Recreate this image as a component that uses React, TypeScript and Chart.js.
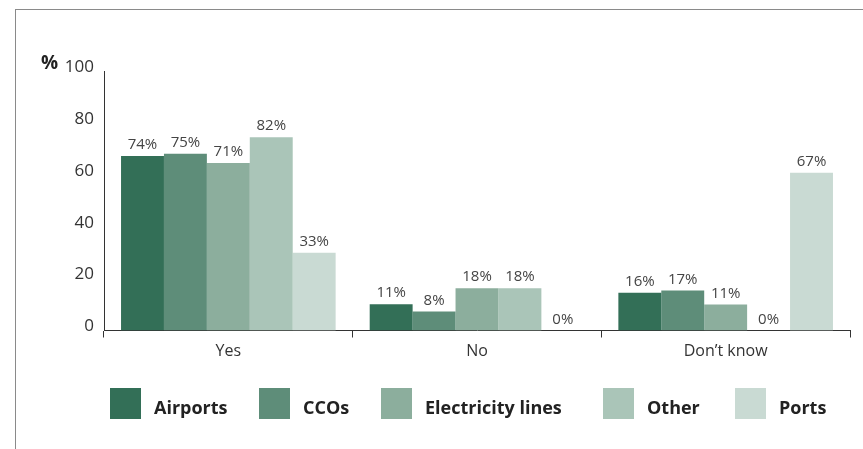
import React, { useEffect, useRef } from "react";
import { Chart, registerables } from "chart.js";

Chart.register(...registerables);

const categories = ["Yes", "No", "Don\u2019t know"];
const seriesNames = ["Airports", "CCOs", "Electricity lines", "Other", "Ports"];
const seriesColors = ["#336f57", "#5e8d79", "#8cae9d", "#aac5b8", "#c9dad3"];

// bar heights as drawn
const airports = [67.2, 10.1, 14.5];
const ccos = [68.1, 7.3, 15.4];
const electricity = [64.5, 16.3, 10.0];
const other = [74.5, 16.3, 0];
const ports = [30.0, 0, 60.8];

// printed labels
const airportsLabels = ["74%", "11%", "16%"];
const ccosLabels = ["75%", "8%", "17%"];
const electricityLabels = ["71%", "18%", "11%"];
const otherLabels = ["82%", "18%", "0%"];
const portsLabels = ["33%", "0%", "67%"];

const yTicks = [0, 20, 40, 60, 80, 100];

const seriesValues = [airports, ccos, electricity, other, ports];
const seriesLabels = [airportsLabels, ccosLabels, electricityLabels, otherLabels, portsLabels];

const FONT = "'Open Sans', 'Noto Sans', sans-serif";

const labelPlugin = {
  id: "barLabels",
  afterDatasetsDraw(chart: any) {
    const ctx = chart.ctx;
    ctx.save();
    ctx.font = `15px ${FONT}`;
    ctx.fillStyle = "#444";
    ctx.textAlign = "center";
    ctx.textBaseline = "alphabetic";
    chart.data.datasets.forEach((ds: any, di: number) => {
      const meta = chart.getDatasetMeta(di);
      meta.data.forEach((bar: any, i: number) => {
        ctx.fillText(seriesLabels[di][i], bar.x, bar.y - 7);
      });
    });
    // % unit label
    ctx.font = `bold 19px ${FONT}`;
    ctx.fillStyle = "#222";
    ctx.textAlign = "left";
    ctx.textBaseline = "middle";
    ctx.fillText("%", 41, 64);
    ctx.restore();
  },
};

const legendLeft = [110, 259, 381, 603, 735];

function Legend() {
  return (
    <div style={{ position: "absolute", left: 0, top: 388, width: 863, height: 31 }}>
      {seriesNames.map((n, i) => (
        <div
          key={n}
          style={{
            position: "absolute",
            left: legendLeft[i],
            top: 0,
            height: 31,
            display: "flex",
            alignItems: "flex-start",
            fontFamily: FONT,
            fontWeight: 700,
            fontSize: 18,
            color: "#222",
          }}
        >
          <div style={{ width: 31, height: 31, background: seriesColors[i], marginRight: 13 }} />
          <span style={{ lineHeight: "31px", whiteSpace: "nowrap", position: "relative", top: 4 }}>{n}</span>
        </div>
      ))}
    </div>
  );
}

export default function App() {
  const ref = useRef<HTMLCanvasElement | null>(null);
  useEffect(() => {
    if (!ref.current) return;
    const chart = new Chart(ref.current, {
      type: "bar",
      data: {
        labels: categories,
        datasets: seriesNames.map((n, i) => ({
          label: n,
          data: seriesValues[i],
          backgroundColor: seriesColors[i],
          borderWidth: 0,
          barPercentage: 1,
          categoryPercentage: 0.863,
        })),
      },
      options: {
        responsive: false,
        animation: false,
        layout: { padding: { top: 71, right: 13, left: 0, bottom: 0 } },
        plugins: { legend: { display: false }, tooltip: { enabled: false } },
        scales: {
          x: {
            offset: true,
            grid: {
              display: true,
              offset: true,
              drawOnChartArea: false,
              drawTicks: true,
              tickLength: 7,
              color: "#333",
            },
            border: { display: true, color: "#333", width: 1 },
            ticks: { color: "#333", font: { family: FONT, size: 16 }, padding: 4 },
            afterFit: (s: any) => {
              s.height = 118.5;
            },
          },
          y: {
            min: 0,
            max: 100,
            afterBuildTicks: (s: any) => {
              s.ticks = yTicks.map((v) => ({ value: v }));
            },
            grid: { display: false, drawTicks: false },
            border: { display: true, color: "#333", width: 1 },
            ticks: {
              color: "#333",
              font: { family: FONT, size: 17 },
              padding: 10,
              labelOffset: -4,
            },
            afterFit: (s: any) => {
              s.width = 104;
            },
          },
        },
      },
      plugins: [labelPlugin],
    });
    return () => chart.destroy();
  }, []);

  return (
    <div style={{ position: "fixed", left: 0, top: 0, width: 863, height: 449, background: "#fff" }}>
      <div
        style={{
          position: "absolute",
          left: 15,
          top: 9,
          width: 848,
          height: 440,
          borderTop: "1px solid #8a8a8a",
          borderLeft: "1px solid #8a8a8a",
          boxSizing: "border-box",
        }}
      />
      <canvas ref={ref} width={863} height={449} style={{ position: "absolute", left: 0, top: 0, width: 863, height: 449 }} />
      <Legend />
    </div>
  );
}
